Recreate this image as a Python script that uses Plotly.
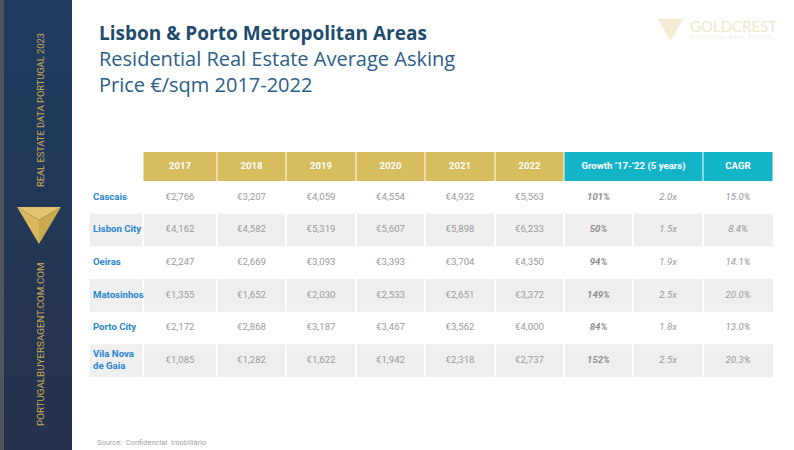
import plotly.graph_objects as go

# ---------------- data ----------------
areas = ["Cascais", "Lisbon City", "Oeiras", "Matosinhos", "Porto City", "Vila Nova<br>de Gaia"]
years = ["2017", "2018", "2019", "2020", "2021", "2022"]
p2017 = [2766, 4162, 2247, 1355, 2172, 1085]
p2018 = [3207, 4582, 2669, 1652, 2868, 1282]
p2019 = [4059, 5319, 3093, 2030, 3187, 1622]
p2020 = [4554, 5607, 3393, 2533, 3467, 1942]
p2021 = [4932, 5898, 3704, 2651, 3562, 2318]
p2022 = [5563, 6233, 4350, 3372, 4000, 2737]
growth_pct = [101, 50, 94, 149, 84, 152]
growth_x = [2.0, 1.5, 1.9, 2.5, 1.8, 2.5]
cagr = [15.0, 8.4, 14.1, 20.0, 13.0, 20.3]
growth_header = "Growth \u201817-\u201822 (5 years)"
cagr_header = "CAGR"
title_lines = ["Lisbon & Porto Metropolitan Areas", "Residential Real Estate Average Asking",
               "Price \u20ac/sqm 2017-2022"]

# ---------------- layout constants ----------------
W, H = 794, 450
col_w = [53, 74, 69, 70, 69, 70, 69, 69, 70, 70]
edges = [0]
for w in col_w:
    edges.append(edges[-1] + w)
centers = [(edges[j] + edges[j + 1]) / 2 for j in range(len(col_w))]
header_h = 0.89
table_x0, table_x1 = 90, 773
table_y0, table_y1 = 152, 377

GOLD = "#d7bd5d"
TEAL = "#14b4c8"
GRAY_ROW = "#efefef"
VAL = "#9b9b9b"
LABEL = "#2a86cf"
SIDE_GOLD = "#cdac55"
FONT = "Roboto"
TITLE_FONT = "Open Sans"

def px(x):
    return x / W

def py(y):
    return 1 - y / H

fig = go.Figure()
shapes = []
annotations = []

# ---------------- sidebar ----------------
shapes.append(dict(type="rect", xref="paper", yref="paper", x0=px(0), x1=px(4), y0=py(450), y1=py(0),
                   fillcolor="#50555d", line=dict(width=0), layer="below"))
top_c = (31, 60, 96)
bot_c = (39, 50, 77)
n_bands = 30
for k in range(n_bands):
    t = k / (n_bands - 1)
    c = tuple(int(round(top_c[i] + (bot_c[i] - top_c[i]) * t)) for i in range(3))
    shapes.append(dict(type="rect", xref="paper", yref="paper", x0=px(4), x1=px(72),
                       y0=py(450), y1=py(450 * k / n_bands),
                       fillcolor="rgb(%d,%d,%d)" % c, line=dict(width=0), layer="below"))

def tri_path(pts):
    return "M " + " L ".join("%f,%f" % (px(a), py(b)) for a, b in pts) + " Z"

shapes.append(dict(type="path", xref="paper", yref="paper", path=tri_path([(17, 207), (61, 207), (39, 220)]),
                   fillcolor="#e2c470", line=dict(width=0)))
shapes.append(dict(type="path", xref="paper", yref="paper", path=tri_path([(17, 207), (39, 220), (39, 244)]),
                   fillcolor="#d8b75d", line=dict(width=0)))
shapes.append(dict(type="path", xref="paper", yref="paper", path=tri_path([(61, 207), (39, 220), (39, 244)]),
                   fillcolor="#cba950", line=dict(width=0)))

annotations.append(dict(xref="paper", yref="paper", x=px(40), y=py(110), text="REAL ESTATE DATA PORTUGAL 2023",
                        textangle=-90, showarrow=False, font=dict(family=FONT, size=9.3, color=SIDE_GOLD),
                        xanchor="center", yanchor="middle"))
annotations.append(dict(xref="paper", yref="paper", x=px(40), y=py(344), text="PORTUGALBUYERSAGENT.COM.COM",
                        textangle=-90, showarrow=False, font=dict(family=FONT, size=9.8, color=SIDE_GOLD),
                        xanchor="center", yanchor="middle"))

# ---------------- logo ----------------
shapes.append(dict(type="path", xref="paper", yref="paper", path=tri_path([(658, 19), (683, 19), (670.5, 41)]),
                   fillcolor="#f4ecd3", line=dict(width=0)))
annotations.append(dict(xref="paper", yref="paper", x=px(688), y=py(26), text="GOLDCREST", showarrow=False,
                        font=dict(family="Lato", size=15, color="#f2e9cd"), xanchor="left", yanchor="middle"))
annotations.append(dict(xref="paper", yref="paper", x=px(689), y=py(37), text="P O R T U G A L   R E A L   E S T A T E",
                        showarrow=False, font=dict(family="Lato", size=5, color="#f4eedb"),
                        xanchor="left", yanchor="middle"))

# ---------------- titles (one block, three lines) ----------------
title_text = ("<span style='font-size:19px;color:#1f4c6e'><b>%s</b></span><br>%s<br>%s"
              % (title_lines[0], title_lines[1], title_lines[2]))
annotations.append(dict(xref="paper", yref="paper", x=px(97), y=py(59), text=title_text, align="left",
                        showarrow=False, font=dict(family=TITLE_FONT, size=20, color="#2d5e86"),
                        xanchor="left", yanchor="middle"))

annotations.append(dict(xref="paper", yref="paper", x=px(95), y=py(442), text="Source:  Confidencial  Imobili\u00e1rio",
                        showarrow=False, font=dict(family=FONT, size=7.5, color="#a3a3a3"),
                        xanchor="left", yanchor="middle"))

# ---------------- table cells ----------------
n_rows = len(areas)
for j in range(1, 7):
    shapes.append(dict(type="rect", xref="x", yref="y", x0=edges[j] + 0.5, x1=edges[j + 1] - 0.5,
                       y0=-header_h, y1=0, fillcolor=GOLD, line=dict(width=0), layer="below"))
shapes.append(dict(type="rect", xref="x", yref="y", x0=edges[7] + 0.5, x1=edges[9] - 0.5,
                   y0=-header_h, y1=0, fillcolor=TEAL, line=dict(width=0), layer="below"))
shapes.append(dict(type="rect", xref="x", yref="y", x0=edges[9] + 0.5, x1=edges[10] - 0.5,
                   y0=-header_h, y1=0, fillcolor=TEAL, line=dict(width=0), layer="below"))
for i in range(n_rows):
    if i % 2 == 1:
        for j in range(len(col_w)):
            shapes.append(dict(type="rect", xref="x", yref="y",
                               x0=edges[j] + (1 if j > 0 else 0), x1=edges[j + 1] - (1 if j < len(col_w) - 1 else 0),
                               y0=i, y1=i + 1, fillcolor=GRAY_ROW, line=dict(width=0), layer="below"))

rows_y = [i + 0.5 for i in range(n_rows)]

def text_trace(x, y, text, size, color, weight="normal", style="normal", pos="middle center"):
    fig.add_trace(go.Scatter(x=x, y=y, text=text, mode="text", textposition=pos,
                             textfont=dict(family=FONT, size=size, color=color, weight=weight, style=style),
                             hoverinfo="skip", showlegend=False, cliponaxis=False))

text_trace(centers[1:7], [-header_h / 2] * 6, years, 9.6, "white", weight="bold")
text_trace([(edges[7] + edges[9]) / 2], [-header_h / 2], [growth_header], 9.6, "white", weight="bold")
text_trace([centers[9]], [-header_h / 2], [cagr_header], 9.6, "white", weight="bold")

text_trace([3] * n_rows, rows_y, areas, 9.6, LABEL, weight="bold", pos="middle right")

for j, series in enumerate([p2017, p2018, p2019, p2020, p2021, p2022], start=1):
    text_trace([centers[j]] * n_rows, rows_y, ["\u20ac{:,}".format(v) for v in series], 9.6, VAL)

text_trace([centers[7]] * n_rows, rows_y, ["%d%%" % v for v in growth_pct], 9.6, "#8f8f8f",
           weight="bold", style="italic")
text_trace([centers[8]] * n_rows, rows_y, ["%.1fx" % v for v in growth_x], 9.6, "#999999", style="italic")
text_trace([centers[9]] * n_rows, rows_y, ["%.1f%%" % v for v in cagr], 9.6, "#999999", style="italic")

fig.update_layout(
    width=W, height=H, margin=dict(l=0, r=0, t=0, b=0),
    paper_bgcolor="white", plot_bgcolor="rgba(0,0,0,0)",
    shapes=shapes, annotations=annotations,
    xaxis=dict(range=[0, edges[-1]], domain=[px(table_x0), px(table_x1)], visible=False, fixedrange=True),
    yaxis=dict(range=[n_rows, -header_h], domain=[py(table_y1), py(table_y0)], visible=False, fixedrange=True),
)

fig.write_html("out.html", config={"displayModeBar": False},
               post_script="document.body.style.margin='0';document.body.style.overflow='hidden';")
